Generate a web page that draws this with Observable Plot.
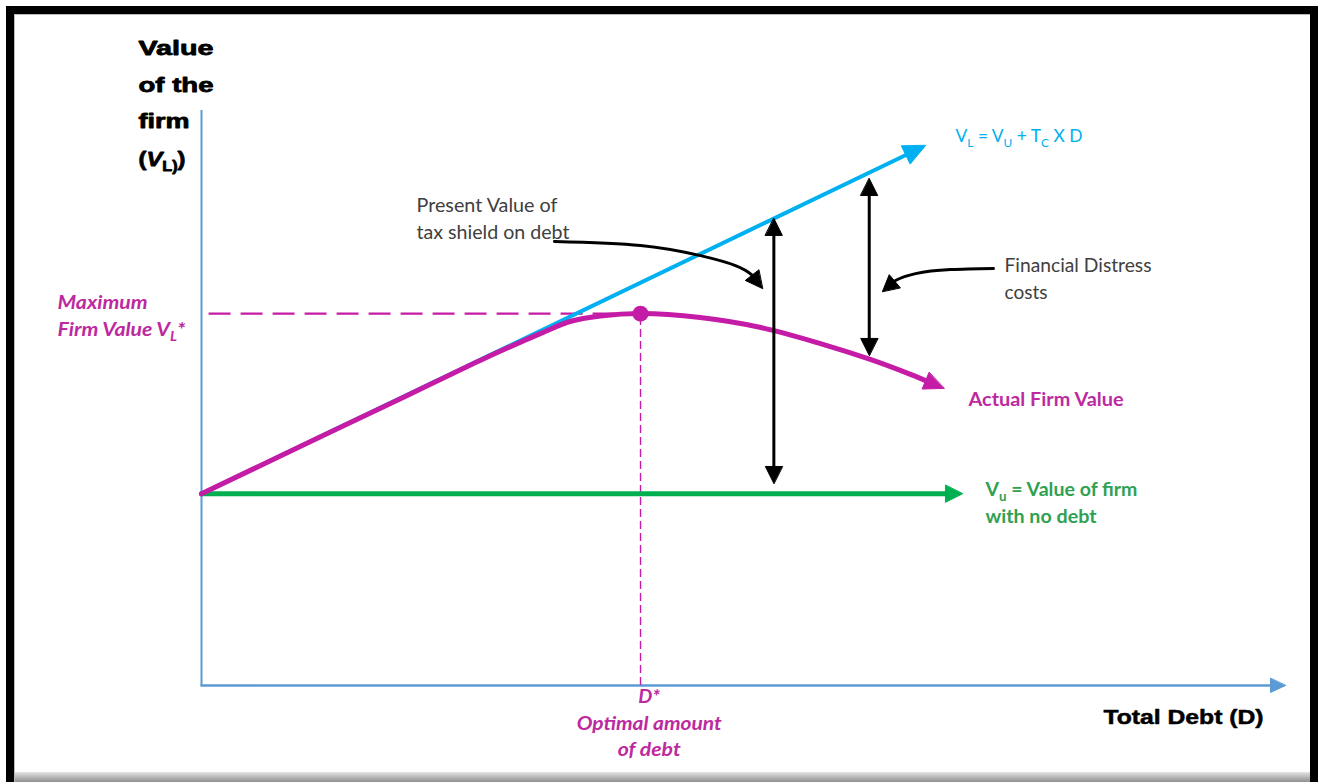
<!DOCTYPE html>
<html><head><meta charset="utf-8">
<script src="https://cdn.jsdelivr.net/npm/d3@7"></script>
<script src="https://cdn.jsdelivr.net/npm/@observablehq/plot@0.6"></script>
<style>
html,body{margin:0;padding:0;background:#fff;}
#wrap{position:relative;width:1322px;height:782px;overflow:hidden;background:#fff;}
#chart svg{display:block;}
.frame{position:absolute;left:6px;top:6px;width:1312px;height:800px;border:8px solid #000;box-sizing:border-box;pointer-events:none;box-shadow:inset 1px 1px 0 #bbb;}
.shadow{position:absolute;left:14px;top:772px;width:1296px;height:10px;background:linear-gradient(#e4e4e4,#8f8f8f);}
</style></head><body>
<div id="wrap"><div id="chart"></div><div class="shadow"></div><div class="frame"></div></div>
<script>
// ---------- data (debt on x, firm value on y, arbitrary units) ----------
const dStar = 4.05;            // optimal amount of debt
const vMax = 194;              // maximum firm value
const leveredDebt  = [0, 6.68];        // V_L = V_U + T_C x D
const leveredValue = [100, 281.7];
const unleveredDebt  = [0, 7.02];      // V_U
const unleveredValue = [100, 100];
const actualDebt  = [0, 0.91, 1.84, 2.57, 3.13, 3.40, 3.68, 4.05, 4.60, 5.16, 5.71, 6.17, 6.54, 6.85];
const actualValue = [100, 124.7, 149.7, 169.6, 183.7, 189.9, 192.8, 194.1, 192, 186.8, 178.4, 170.1, 162.3, 155];
const gapDebt   = [5.28, 6.16];        // tax-shield gap, distress-cost gap
const gapTop    = [243.7, 264.5];
const gapBottom = [105.4, 172.2];
const axisMaxDebt = 10, axisMaxValue = 300;

// ---------- text ----------
const yTitleLines = ["Value", "of the", "firm", "(~{V}_{L)})"];
const xTitle = "Total Debt (D)";
const leveredLabel = "V_{L} = V_{U} + T_{C} X D";
const taxShieldLines = ["Present Value of", "tax shield on debt"];
const distressLines = ["Financial Distress", "costs"];
const actualLabel = "Actual Firm Value";
const unleveredLines = ["V_{u} = Value of firm", "with no debt"];
const maxLines = ["Maximum", "Firm Value V_{L}*"];
const optimalLines = ["D*", "Optimal amount", "of debt"];

// ---------- annotation geometry (data units) ----------
const curveTax = {x: [3.256, 4.05, 4.603, 4.926, 5.074, 5.175], y: [231.7, 229.6, 224.3, 219.1, 214.4, 207.1]};
const curveDistress = {x: [7.306, 6.91, 6.587, 6.402, 6.282], y: [217.6, 217.0, 214.9, 211.3, 205.6]};

const W = 1322, H = 782, mL = 201, mR = 37, mT = 110, mB = 97;
const X = d3.scaleLinear([0, axisMaxDebt], [mL, W - mR]);
const Y = d3.scaleLinear([0, axisMaxValue], [H - mB, mT]);

const BLUE = "#00B0F0", PURPLE = "#C41CA6", PTEXT = "#BD2A9F", GREEN = "#00B050", GTEXT = "#2FA152", AXIS = "#5B9BD5", GRAY = "#404040";

let headId = 0;
// arrowhead polygon pointing from `from` to `tip`; returns polygon (data units) and shaft end
function head(from, tip, len, wid) {
  const id = headId++;
  const p0 = [X(from[0]), Y(from[1])], p1 = [X(tip[0]), Y(tip[1])];
  const a = Math.atan2(p1[1] - p0[1], p1[0] - p0[0]);
  const ux = Math.cos(a), uy = Math.sin(a);
  const bx = p1[0] - ux * len, by = p1[1] - uy * len;
  const pts = [[p1[0], p1[1]], [bx - uy * wid / 2, by + ux * wid / 2], [bx + uy * wid / 2, by - ux * wid / 2]];
  return {
    poly: pts.map(([x, y]) => ({id, x: X.invert(x), y: Y.invert(y)})),
    base: {x: X.invert(p1[0] - ux * len * 0.6), y: Y.invert(p1[1] - uy * len * 0.6)}
  };
}
const zip = (xs, ys) => xs.map((x, i) => ({x, y: ys[i]}));

function arrowMarks(points, color, sw, len, wid, curve = "linear", both = false) {
  const n = points.length;
  const hEnd = head([points[n - 2].x, points[n - 2].y], [points[n - 1].x, points[n - 1].y], len, wid);
  let shaft = points.slice(0, n - 1).concat([hEnd.base]);
  const polys = [...hEnd.poly];
  if (both) {
    const hStart = head([points[1].x, points[1].y], [points[0].x, points[0].y], len, wid);
    shaft = [hStart.base].concat(shaft.slice(1));
    polys.push(...hStart.poly);
  }
  return [
    Plot.line(shaft, {x: "x", y: "y", stroke: color, strokeWidth: sw, curve}),
    Plot.line(polys, {x: "x", y: "y", z: "id", fill: color, stroke: color, strokeWidth: 1, curve: "linear-closed"})
  ];
}

const textSpec = (lines, x, ys) => lines.map((t, i) => ({text: t, x, y: ys[i]}));
const calibri = "Lato, 'Open Sans', sans-serif";
const arial = "'Liberation Sans', Arial, sans-serif";
const tOpts = (extra) => Object.assign({x: "x", y: "y", text: "text", textAnchor: "start", lineAnchor: "bottom", fontFamily: calibri, fontSize: 18.5}, extra);

const marks = [
  // axes
  Plot.ruleX([0], {y1: 0, y2: axisMaxValue, stroke: AXIS, strokeWidth: 2}),
  ...arrowMarks(zip([0, axisMaxDebt], [0, 0]), AXIS, 2.6, 15, 14),
  // guides
  Plot.ruleY([vMax], {x1: 0.07, x2: dStar, stroke: PURPLE, strokeWidth: 2.2, strokeDasharray: "22,10"}),
  Plot.ruleX([dStar], {y1: 0, y2: vMax, stroke: PURPLE, strokeWidth: 1.4, strokeDasharray: "8,4"}),
  // curves
  ...arrowMarks(zip(leveredDebt, leveredValue), BLUE, 4, 22, 20),
  ...arrowMarks(zip(unleveredDebt, unleveredValue), GREEN, 5, 17, 17),
  ...arrowMarks(zip(actualDebt, actualValue), PURPLE, 5, 20, 18, "catmull-rom"),
  Plot.dot([{x: dStar, y: vMax}], {x: "x", y: "y", r: 8, fill: PURPLE, stroke: "none"}),
  // gap arrows
  ...gapDebt.flatMap((d, i) => arrowMarks(zip([d, d], [gapBottom[i], gapTop[i]]), "#000", 3, 17, 17, "linear", true)),
  // curved pointer arrows
  ...arrowMarks(zip(curveTax.x, curveTax.y), "#000", 3, 17, 17, "natural"),
  ...arrowMarks(zip(curveDistress.x, curveDistress.y), "#000", 3, 16, 17, "natural"),
  // texts
  Plot.text(textSpec(yTitleLines, -0.581, [328.7, 309.6, 290.9, 271.3]), tOpts({fontFamily: arial, fontSize: 21, fontWeight: "bold", fill: "#000", stroke: "#000", strokeWidth: 0.8})),
  Plot.text(textSpec([xTitle], 8.321, [-20.3]), tOpts({fontFamily: arial, fontSize: 20.5, fontWeight: "bold", fill: "#000", stroke: "#000", strokeWidth: 0.5})),
  Plot.text(textSpec([leveredLabel], 6.956, [283.5]), tOpts({fontSize: 17, fill: BLUE})),
  Plot.text(textSpec(taxShieldLines, 1.983, [246.9, 233.1]), tOpts({fill: GRAY})),
  Plot.text(textSpec(distressLines, 7.408, [215.6, 201.8]), tOpts({fill: GRAY})),
  Plot.text(textSpec([actualLabel], 7.076, [145.6]), tOpts({fontWeight: "bold", fill: PTEXT})),
  Plot.text(textSpec(unleveredLines, 7.232, [99.1, 84.7]), tOpts({fontWeight: "bold", fill: GTEXT})),
  Plot.text(textSpec(maxLines, -1.328, [196.5, 182.6]), tOpts({fontWeight: "bold", fontStyle: "italic", fill: PTEXT})),
  Plot.text(textSpec(optimalLines, 4.13, [-8.9, -23.0, -37.0]), tOpts({textAnchor: "middle", fontWeight: "bold", fontStyle: "italic", fill: PTEXT}))
];

const plot = Plot.plot({
  width: W, height: H,
  marginLeft: mL, marginRight: mR, marginTop: mT, marginBottom: mB,
  x: {domain: [0, axisMaxDebt], axis: null},
  y: {domain: [0, axisMaxValue], axis: null},
  style: {background: "#fff", overflow: "visible"},
  marks
});
document.getElementById("chart").appendChild(plot);

// text widths matching the reference
const widths = {
  "Value": 75, "of the": 75, "firm": 51, "(~{V}_{L)})": 47, "Total Debt (D)": 160,
  "V_{L} = V_{U} + T_{C} X D": 127, "Present Value of": 141, "tax shield on debt": 153,
  "Financial Distress": 147, "costs": 43, "Actual Firm Value": 155,
  "V_{u} = Value of firm": 152, "with no debt": 111, "Maximum": 90, "Firm Value V_{L}*": 128,
  "D*": 22, "Optimal amount": 145, "of debt": 63
};
const NS = "http://www.w3.org/2000/svg";
plot.querySelectorAll("text").forEach(el => {
  const raw = el.textContent;
  if (/[_~]\{/.test(raw)) {
    const fs = parseFloat(getComputedStyle(el).fontSize) || 18;
    el.textContent = "";
    const parts = raw.split(/(_\{[^}]*\}|~\{[^}]*\})/).filter(s => s);
    let shifted = false;
    for (const p of parts) {
      const t = document.createElementNS(NS, "tspan");
      if (p.startsWith("_{")) {
        t.textContent = p.slice(2, -1);
        t.setAttribute("font-size", (fs * 0.68).toFixed(1));
        if (!shifted) t.setAttribute("dy", (fs * 0.28).toFixed(1));
        shifted = true;
      } else {
        const italic = p.startsWith("~{");
        t.textContent = italic ? p.slice(2, -1) : p;
        if (italic) t.setAttribute("font-style", "italic");
        if (shifted) { t.setAttribute("dy", (-fs * 0.28).toFixed(1)); shifted = false; }
      }
      el.appendChild(t);
    }
  }
  const w = widths[raw];
  if (w) { el.setAttribute("textLength", w); el.setAttribute("lengthAdjust", "spacingAndGlyphs"); }
});
</script></body></html>
